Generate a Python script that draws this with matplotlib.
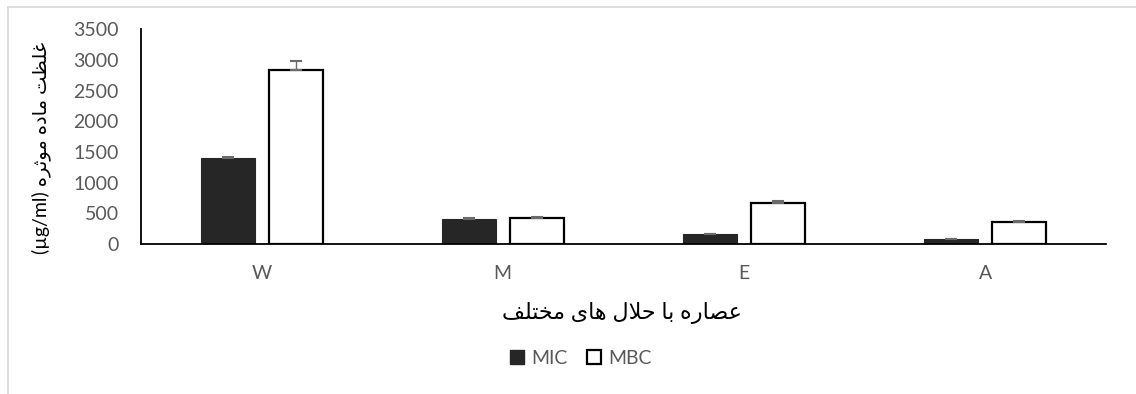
import matplotlib
matplotlib.use("Agg")
import matplotlib.pyplot as plt
from matplotlib.patches import Patch
from matplotlib.lines import Line2D
import numpy as np

# Extract data (µg/ml)
categories = ["W", "M", "E", "A"]
mic_values = [1410, 410, 160, 80]
mic_err = [15, 10, 10, 8]
mbc_values = [2830, 420, 670, 355]
mbc_err = [150, 25, 30, 15]
series_names = ["MIC", "MBC"]
y_ticks = [0, 500, 1000, 1500, 2000, 2500, 3000, 3500]

# Persian letters -> presentation forms (isolated, final, initial, medial)
FORMS = {
    "ا": ("\uFE8D", "\uFE8E", None, None),
    "ب": ("\uFE8F", "\uFE90", "\uFE91", "\uFE92"),
    "ت": ("\uFE95", "\uFE96", "\uFE97", "\uFE98"),
    "ث": ("\uFE99", "\uFE9A", "\uFE9B", "\uFE9C"),
    "ح": ("\uFEA1", "\uFEA2", "\uFEA3", "\uFEA4"),
    "خ": ("\uFEA5", "\uFEA6", "\uFEA7", "\uFEA8"),
    "د": ("\uFEA9", "\uFEAA", None, None),
    "ر": ("\uFEAD", "\uFEAE", None, None),
    "ص": ("\uFEB9", "\uFEBA", "\uFEBB", "\uFEBC"),
    "ظ": ("\uFEC5", "\uFEC6", "\uFEC7", "\uFEC8"),
    "ع": ("\uFEC9", "\uFECA", "\uFECB", "\uFECC"),
    "غ": ("\uFECD", "\uFECE", "\uFECF", "\uFED0"),
    "ف": ("\uFED1", "\uFED2", "\uFED3", "\uFED4"),
    "ل": ("\uFEDD", "\uFEDE", "\uFEDF", "\uFEE0"),
    "م": ("\uFEE1", "\uFEE2", "\uFEE3", "\uFEE4"),
    "ه": ("\uFEE9", "\uFEEA", "\uFEEB", "\uFEEC"),
    "و": ("\uFEED", "\uFEEE", None, None),
    "ی": ("\uFBFC", "\uFBFD", "\uFBFE", "\uFBFF"),
}


def joins_left(ch):
    return ch in FORMS and FORMS[ch][2] is not None


def persian(text):
    """Shape Persian text and return it in visual (left-to-right) order."""
    out = []
    i = 0
    n = len(text)
    while i < n:
        ch = text[i]
        prev = text[i - 1] if i > 0 else ""
        nxt = text[i + 1] if i + 1 < n else ""
        from_prev = joins_left(prev)
        if ch not in FORMS:
            out.append(ch)
            i += 1
            continue
        if ch == "ل" and nxt == "ا":
            out.append("\uFEFC" if from_prev else "\uFEFB")
            i += 2
            continue
        iso, fin, ini, med = FORMS[ch]
        to_next = joins_left(ch) and nxt in FORMS
        if from_prev and to_next:
            out.append(med)
        elif from_prev:
            out.append(fin)
        elif to_next:
            out.append(ini)
        else:
            out.append(iso)
        i += 1
    return "".join(reversed(out))


GREY = "#595959"
plt.rcParams["font.family"] = ["Lato", "DejaVu Sans"]

fig = plt.figure(figsize=(11.36, 3.94), dpi=100)
ax = fig.add_axes([0.1241, 0.3807, 0.8492, 0.5449])

x = np.arange(len(categories)) + 0.5
width = 0.224
offset = 0.141

ax.bar(x - offset, mic_values, width, color="#262626", edgecolor="#262626",
       linewidth=0.8, zorder=2)
ax.bar(x + offset, mbc_values, width, color="white", edgecolor="black",
       linewidth=1.6, zorder=2)
ax.errorbar(x - offset, mic_values, yerr=[np.zeros(len(mic_err)), mic_err],
            fmt="none", ecolor="#6b6b6b", elinewidth=1.0, capsize=4.5,
            capthick=1.5, zorder=3)
ax.errorbar(x + offset, mbc_values, yerr=[np.zeros(len(mbc_err)), mbc_err],
            fmt="none", ecolor="#6b6b6b", elinewidth=1.0, capsize=4.5,
            capthick=1.5, zorder=3)

ax.set_xlim(0, len(categories))
ax.set_ylim(0, 3500)
ax.set_yticks(y_ticks)
ax.set_xticks(x)
ax.set_xticklabels(categories)
ax.tick_params(axis="both", length=0, labelsize=14, labelcolor=GREY)
ax.tick_params(axis="y", pad=16)
ax.tick_params(axis="x", pad=15)

for side in ("top", "right"):
    ax.spines[side].set_visible(False)
for side in ("left", "bottom"):
    ax.spines[side].set_color("black")
    ax.spines[side].set_linewidth(1.3)

ylabel = "(µg/ml) " + persian("غلظت ماده موثره")
fig.text(41 / 1136, 1 - 148 / 394, ylabel, rotation=90, ha="center",
         va="center", fontsize=14, color="black")
fig.text(622 / 1136, 1 - 313 / 394, persian("عصاره با حلال های مختلف"),
         ha="center", va="center", fontsize=16, color="black")

handles = [Patch(facecolor="#262626", edgecolor="#262626"),
           Patch(facecolor="white", edgecolor="black", linewidth=1.6)]
fig.legend(handles, series_names, loc="center", ncol=2, frameon=False,
           bbox_to_anchor=(581 / 1136, 1 - 358 / 394), fontsize=14,
           labelcolor=GREY, handlelength=0.7, handleheight=0.7,
           handletextpad=0.4, columnspacing=1.0)

# chart area border
border = "#d9d9d9"
fig.add_artist(Line2D([8 / 1136, 8 / 1136], [0, 1 - 7 / 394],
                      color=border, linewidth=1.2))
fig.add_artist(Line2D([8 / 1136, 1], [1 - 7 / 394, 1 - 7 / 394],
                      color=border, linewidth=1.2))

fig.savefig("out.png", dpi=100)
